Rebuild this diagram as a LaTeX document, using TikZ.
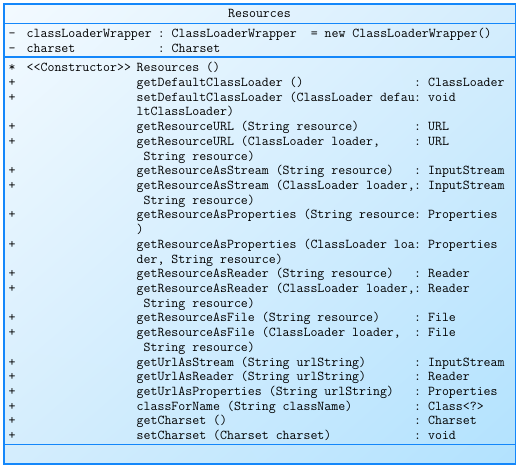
\documentclass[tikz,border=0pt]{standalone}
\usepackage{fontspec}
\setmonofont{Latin Modern Mono}
\usetikzlibrary{shadings}
\definecolor{umlborder}{RGB}{20,135,250}
\definecolor{umlpale}{RGB}{243,250,255}
\definecolor{umlmid}{RGB}{212,237,253}
\definecolor{umldeep}{RGB}{178,226,254}
\tikzset{
  umltext/.style={anchor=base west, inner sep=0pt, font=\ttfamily\fontsize{13.5}{15}\selectfont},
  umlrule/.style={draw=umlborder, line width=1.4pt}
}

\begin{document}
\begin{tikzpicture}[x=1pt,y=-1pt]
    \useasboundingbox (0,0) rectangle (520,469);
    \shade[upper left=umlpale, upper right=umlmid, lower left=umlmid, lower right=umldeep] (4,4) rectangle (515.5,464);
    \draw[umlrule] (4,4) rectangle (515.5,464);
    \draw[umlrule] (4,23.5) -- (515.5,23.5);
    \draw[umlrule] (4,57) -- (515.5,57);
    \draw[umlrule] (4,444.5) -- (515.5,444.5);
    \node[umltext, anchor=base] (title) at (259.5,17.5) {Resources};
    % attributes
    \node[umltext] (attvis1) at (8.5,37.5) {-};
    \node[umltext] (attname1) at (26.5,37.5) {classLoaderWrapper};
    \node[umltext] (atttype1) at (157.6,37.5) {: ClassLoaderWrapper\ \ = new ClassLoaderWrapper()};
    \node[umltext] (attvis2) at (8.5,52.2) {-};
    \node[umltext] (attname2) at (26.5,52.2) {charset};
    \node[umltext] (atttype2) at (157.6,52.2) {: Charset};
    % operations
    \node[umltext] (opvis1) at (8.5,71.7) {*};
    \node[umltext] (opstereo1) at (26.5,71.7) {<<Constructor>>};
    \node[umltext] (opname1) at (136.5,71.7) {Resources ()};
    \foreach \vis/\opname/\optype [count=\i from 2] in {
        {+}/{getDefaultClassLoader ()}/{: ClassLoader},
        {+}/{setDefaultClassLoader (ClassLoader defau}/{: void},
        {}/{ltClassLoader)}/{},
        {+}/{getResourceURL (String resource)}/{: URL},
        {+}/{getResourceURL (ClassLoader loader,}/{: URL},
        {}/{\ String resource)}/{},
        {+}/{getResourceAsStream (String resource)}/{: InputStream},
        {+}/{getResourceAsStream (ClassLoader loader,}/{: InputStream},
        {}/{\ String resource)}/{},
        {+}/{getResourceAsProperties (String resource}/{: Properties},
        {}/{)}/{},
        {+}/{getResourceAsProperties (ClassLoader loa}/{: Properties},
        {}/{der, String resource)}/{},
        {+}/{getResourceAsReader (String resource)}/{: Reader},
        {+}/{getResourceAsReader (ClassLoader loader,}/{: Reader},
        {}/{\ String resource)}/{},
        {+}/{getResourceAsFile (String resource)}/{: File},
        {+}/{getResourceAsFile (ClassLoader loader,}/{: File},
        {}/{\ String resource)}/{},
        {+}/{getUrlAsStream (String urlString)}/{: InputStream},
        {+}/{getUrlAsReader (String urlString)}/{: Reader},
        {+}/{getUrlAsProperties (String urlString)}/{: Properties},
        {+}/{classForName (String className)}/{: Class<?>},
        {+}/{getCharset ()}/{: Charset},
        {+}/{setCharset (Charset charset)}/{: void}} {
        \pgfmathsetmacro\rowy{71.7+(\i-1)*14.72}
        \node[umltext] (opvis\i) at (8.5,\rowy) {\vis};
        \node[umltext] (opname\i) at (136.5,\rowy) {\opname};
        \node[umltext] (optype\i) at (414,\rowy) {\optype};
    }
\end{tikzpicture}
\end{document}
